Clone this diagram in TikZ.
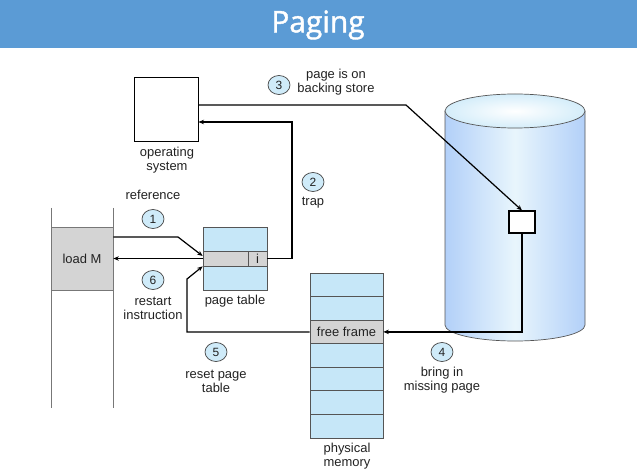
\documentclass[tikz,border=0pt]{standalone}
\usepackage{fontspec}
\setmainfont{Liberation Sans}
\newfontfamily\titlefont[FakeBold=1.3]{Open Sans}
\usetikzlibrary{arrows.meta,shapes.geometric,calc}
\definecolor{barblue}{HTML}{5B9BD5}
\definecolor{lblue}{HTML}{C6E7F8}
\definecolor{cblue}{HTML}{CFEBF9}
\definecolor{lgray}{HTML}{D4D4D4}
\definecolor{txt}{HTML}{222222}
\definecolor{edge}{HTML}{555555}
\tikzset{
  lbl/.style={align=center,inner sep=0pt,text=txt,font=\fontsize{13}{14}\selectfont},
  num/.style={ellipse,draw=edge!80!black,fill=cblue,line width=0.7pt,minimum width=22bp,minimum height=19bp,inner sep=0pt,text=txt,font=\fontsize{12}{12}\selectfont},
  conn/.style={line width=1.2bp,draw=black},
  tip/.style={-{Stealth[length=5.5bp,width=4.5bp]}},
  cell/.style={draw=edge,line width=0.7pt,inner sep=0pt,minimum width=73bp,minimum height=23.57bp,fill=lblue,text=txt,font=\fontsize{13}{14}\selectfont},
}
\begin{document}
\begin{tikzpicture}[x=1bp,y=1bp]
\useasboundingbox (0,0) rectangle (637,-475);
\fill[white] (0,0) rectangle (637,-475);
% title bar
\fill[barblue] (0,0) rectangle (637,-48);
\node[text=white,font=\titlefont\fontsize{30}{30}\selectfont] (title) at (318,-25) {Paging};

% left column
\draw[edge!80,line width=0.7pt] (51,-208) -- (51,-408);
\draw[edge!80,line width=0.7pt] (113,-208) -- (113,-408);
\node[draw=edge!80,line width=0.7pt,fill=lgray,minimum width=62bp,minimum height=63bp,inner sep=0pt,text=txt,font=\fontsize{13}{14}\selectfont] (loadM) at (82,-258.5) {load M};

% operating system
\node[draw=black,line width=1bp,fill=white,minimum width=64bp,minimum height=64bp,inner sep=0pt] (os) at (166,-110) {};
\node[lbl] (oslbl) at (167,-160) {operating\\system};

% page table
\node[draw=edge,line width=0.7pt,fill=lblue,minimum width=64bp,minimum height=63bp,inner sep=0pt] (pt) at (235,-258.5) {};
\node[draw=edge,line width=0.7pt,fill=lgray,minimum width=64bp,minimum height=15bp,inner sep=0pt] (ent) at (235,-258.5) {};
\node[draw=edge,line width=0.7pt,fill=lgray,minimum width=19bp,minimum height=15bp,inner sep=0pt,text=txt,font=\fontsize{13}{14}\selectfont] (icell) at (257.5,-258.5) {i};
\node[lbl] (ptlbl) at (235,-301) {page table};

% cylinder (backing store)
\shade[left color=lblue!90!blue,right color=lblue!90!blue,middle color=lblue!40!white]
  (445,-111) -- (445,-325) arc (180:360:70 and 16) -- (585,-111) arc (0:180:70 and 16) -- cycle;
\draw[edge,line width=0.7pt] (445,-111) -- (445,-325) arc (180:360:70 and 16) -- (585,-111);
\shade[inner color=white,outer color=lblue!75!white,draw=edge,line width=0.7pt] (515,-111) ellipse (70 and 17);
\node[draw=black,line width=1.1bp,fill=white,minimum width=26bp,minimum height=22bp,inner sep=0pt] (sb) at (522,-222) {};

% physical memory
\node[cell] (m0) at (346.5,-284.8) {};
\node[cell] (m1) at (346.5,-308.4) {};
\node[cell,fill=lgray] (ff) at (346.5,-331.9) {free frame};
\node[cell] (m3) at (346.5,-355.5) {};
\node[cell] (m4) at (346.5,-379.1) {};
\node[cell] (m5) at (346.5,-402.6) {};
\node[cell] (m6) at (346.5,-426.2) {};
\node[lbl] (pmlbl) at (347,-456.5) {physical\\memory};

% waypoints
\coordinate (r1) at (178,-237);
\coordinate (t1) at (292,-258.5);
\coordinate (t2) at (292,-122);
\coordinate (b1) at (406,-105);
\coordinate (f1) at (522,-331.9);
\coordinate (s1) at (187,-331.9);
\coordinate (s2) at (187,-279);

% connectors
\draw[conn,tip] ([yshift=21.5bp]loadM.east) -- (r1) -- ([yshift=2.5bp]ent.west);
\draw[conn,tip] (ent.west) -- (loadM.east);
\draw[conn,tip] (icell.east) -- (t1) -- (t2) -- (t2 -| os.east);
\draw[conn,tip] (b1 -| os.east) -- (b1) -- (sb.north);
\draw[conn,tip] (sb.south) -- (f1) -- (ff.east);
\draw[conn,tip] (ff.west) -- (s1) -- (s2) -- (ent.south west);

% step labels
\node[lbl] (lref) at (153,-195) {reference};
\node[num] (c1) at (153,-219) {1};
\node[num] (c6) at (153,-280) {6};
\node[lbl] (lrest) at (153,-308) {restart\\instruction};
\node[num] (c3) at (279,-85) {3};
\node[lbl] (lpage) at (336,-82) {page is on\\backing store};
\node[num] (c2) at (313,-182) {2};
\node[lbl] (ltrap) at (313,-203) {trap};
\node[num] (c5) at (216,-352) {5};
\node[lbl] (lreset) at (216,-381) {reset page\\table};
\node[num] (c4) at (442,-352) {4};
\node[lbl] (lbring) at (442,-380) {bring in\\missing page};
\end{tikzpicture}
\end{document}
